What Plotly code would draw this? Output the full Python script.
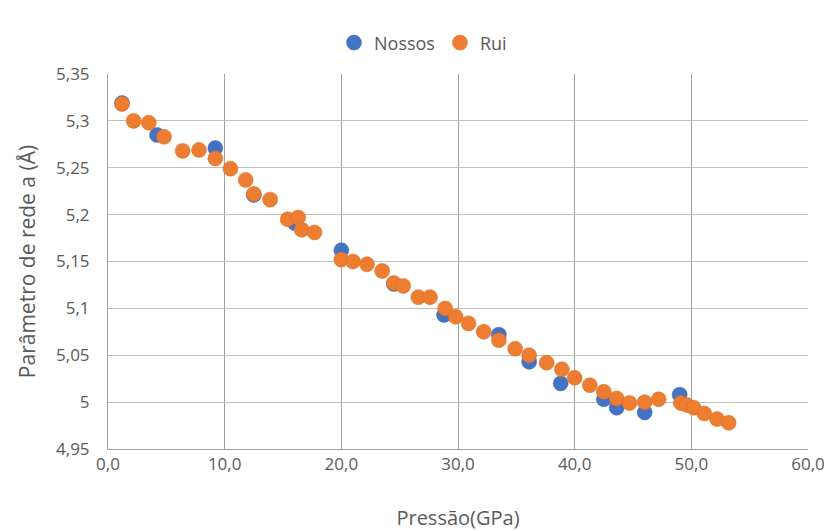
import plotly.graph_objects as go

# Nossos (blue)
nossos_x = [1.2, 4.2, 9.2, 12.5, 16.0, 20.0, 24.5, 28.8, 33.5, 36.1, 38.8, 42.5, 43.6, 46.0, 49.0]
nossos_y = [5.319, 5.285, 5.271, 5.221, 5.191, 5.162, 5.126, 5.093, 5.072, 5.043, 5.020, 5.003, 4.994, 4.989, 5.008]

# Rui (orange)
rui_x = [1.2, 2.2, 3.5, 4.8, 6.4, 7.8, 9.2, 10.5, 11.8, 12.5, 13.9, 15.4, 16.3, 16.6, 17.7,
         20.0, 21.0, 22.2, 23.5, 24.5, 25.3, 26.6, 27.6, 28.9, 29.8, 30.9, 32.2, 33.5, 34.9,
         36.1, 37.6, 38.9, 40.0, 41.3, 42.5, 43.6, 44.7, 46.0, 47.2, 49.1, 49.6, 50.2, 51.1,
         52.2, 53.2]
rui_y = [5.318, 5.300, 5.298, 5.283, 5.268, 5.269, 5.260, 5.249, 5.237, 5.222, 5.216, 5.195,
         5.197, 5.184, 5.181, 5.152, 5.150, 5.147, 5.140, 5.127, 5.124, 5.112, 5.112, 5.100,
         5.091, 5.084, 5.075, 5.066, 5.057, 5.050, 5.042, 5.035, 5.026, 5.018, 5.011, 5.004,
         4.999, 5.000, 5.003, 4.999, 4.997, 4.994, 4.988, 4.982, 4.978]

x_tickvals = [0, 10, 20, 30, 40, 50, 60]
x_ticktext = ["0,0", "10,0", "20,0", "30,0", "40,0", "50,0", "60,0"]
y_tickvals = [4.95, 5.0, 5.05, 5.1, 5.15, 5.2, 5.25, 5.3, 5.35]
y_ticktext = ["4,95", "5", "5,05", "5,1", "5,15", "5,2", "5,25", "5,3", "5,35"]

font_family = "Open Sans"
text_color = "#595959"

fig = go.Figure()
fig.add_trace(go.Scatter(
    x=nossos_x, y=nossos_y, mode="markers", name="Nossos",
    marker=dict(color="#4472C4", size=15, line=dict(color="#3a63ad", width=0.5)),
))
fig.add_trace(go.Scatter(
    x=rui_x, y=rui_y, mode="markers", name="Rui",
    marker=dict(color="#ED7D31", size=15, line=dict(color="#d56a22", width=0.5)),
))

fig.update_layout(
    width=832, height=531,
    margin=dict(l=100, r=32, t=66, b=90, autoexpand=False),
    paper_bgcolor="white", plot_bgcolor="white",
    font=dict(family=font_family, color=text_color, size=17),
    showlegend=True,
    legend=dict(orientation="h", x=0.45, xanchor="center", y=1.083, yanchor="middle",
                font=dict(size=18, color=text_color),
                itemwidth=30, tracegroupgap=0),
    xaxis=dict(range=[0, 60], tickvals=x_tickvals, ticktext=x_ticktext,
               showgrid=True, gridcolor="#a0a0a0", gridwidth=1, automargin=False,
               zeroline=False, showline=True, linecolor="#a0a0a0", mirror=False,
               ticks="", ticklabelstandoff=0, tickfont=dict(size=17, color=text_color),
               title=dict(text="Pressão(GPa)", font=dict(size=20, color=text_color), standoff=36)),
    yaxis=dict(range=[4.95, 5.35], tickvals=y_tickvals, ticktext=y_ticktext,
               showgrid=True, gridcolor="#bfbfbf", gridwidth=1, automargin=False,
               zeroline=False, showline=True, linecolor="#a0a0a0",
               ticks="", ticklabelstandoff=14, tickfont=dict(size=17, color=text_color),
               title=dict(text="Parâmetro de rede a (Å)", font=dict(size=21, color=text_color), standoff=14)),
)

fig.write_html("out.html")
